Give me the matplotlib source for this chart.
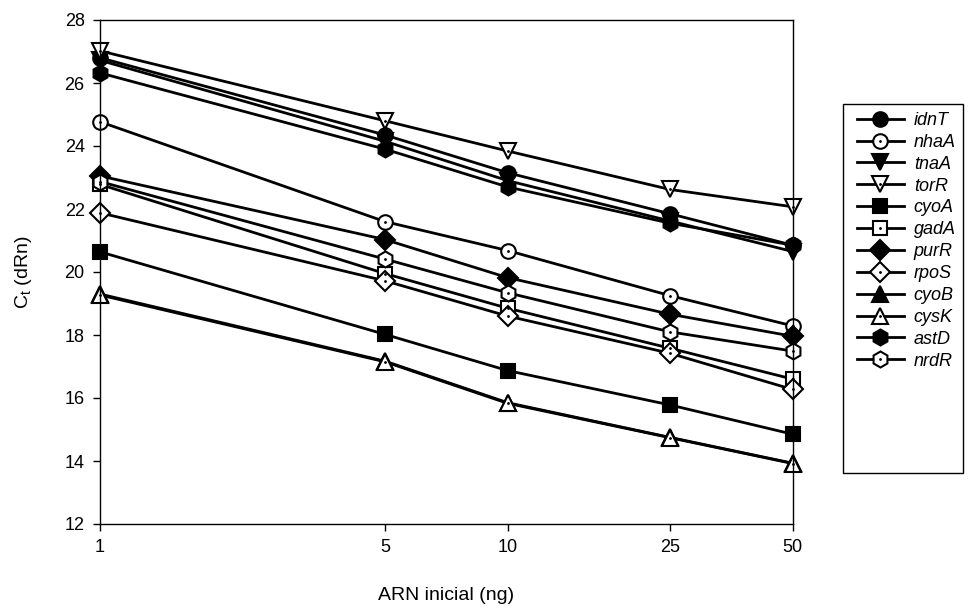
import matplotlib
matplotlib.use("Agg")
import matplotlib.pyplot as plt
from matplotlib.patches import Rectangle
from matplotlib.ticker import FixedLocator, NullLocator, FixedFormatter

plt.rcParams['font.family'] = ['Liberation Sans', 'DejaVu Sans']
plt.rcParams['mathtext.default'] = 'regular'

# ARN inicial (ng)
ng = [1, 5, 10, 25, 50]

idnT = [26.80, 24.35, 23.15, 21.85, 20.85]
nhaA = [24.77, 21.60, 20.68, 19.25, 18.29]
tnaA = [26.72, 24.15, 22.90, 21.62, 20.65]
torR = [27.02, 24.80, 23.84, 22.62, 22.07]
cyoA = [20.64, 18.02, 16.87, 15.78, 14.85]
gadA = [22.78, 19.95, 18.85, 17.58, 16.60]
purR = [23.05, 21.03, 19.82, 18.66, 17.96]
rpoS = [21.88, 19.72, 18.60, 17.42, 16.27]
cyoB = [19.30, 17.17, 15.85, 14.75, 13.93]
cysK = [19.27, 17.15, 15.83, 14.74, 13.92]
astD = [26.32, 23.90, 22.70, 21.55, 20.85]
nrdR = [22.87, 20.41, 19.34, 18.10, 17.49]

genes = ['idnT', 'nhaA', 'tnaA', 'torR', 'cyoA', 'gadA',
         'purR', 'rpoS', 'cyoB', 'cysK', 'astD', 'nrdR']
series = [idnT, nhaA, tnaA, torR, cyoA, gadA, purR, rpoS, cyoB, cysK, astD, nrdR]
markers = ['o', 'o', 'v', 'v', 's', 's', 'D', 'D', '^', '^', 'h', 'h']
filled = [True, False, True, False, True, False, True, False, True, False, True, False]
msizes = [10.5, 10.5, 11.5, 11.5, 10.5, 9.5, 10, 10, 11.5, 11.5, 11.5, 11.5]

fig = plt.figure(figsize=(9.68, 6.09), dpi=100)
ax = fig.add_axes([100 / 968, 1 - 524 / 609, (792.7 - 100) / 968, (524 - 20) / 609])

handles = []
for name, y, m, f, ms in zip(genes, series, markers, filled, msizes):
    ln, = ax.plot(ng, y, color='black', lw=2.0, marker=m, ms=ms,
                  mfc='black' if f else 'white', mec='black', mew=1.5,
                  clip_on=False)
    if f:
        handles.append(ln)
    else:
        # small dot in the centre of open symbols
        dot, = ax.plot(ng, y, ls='none', marker='.', ms=2, color='black',
                       clip_on=False, zorder=ln.get_zorder() + 0.01)
        handles.append((ln, dot))

ax.set_xscale('log')
ax.set_xlim(1, 50)
ax.set_ylim(12, 28)
ax.xaxis.set_major_locator(FixedLocator(ng))
ax.xaxis.set_major_formatter(FixedFormatter([str(v) for v in ng]))
ax.xaxis.set_minor_locator(NullLocator())
ax.set_yticks(range(12, 29, 2))

ax.tick_params(direction='out', length=5, width=1, labelsize=13, pad=6)
for s in ax.spines.values():
    s.set_linewidth(1)

ax.set_xlabel('ARN inicial (ng)', fontsize=14, labelpad=22)
ax.set_ylabel('C$_{t}$ (dRn)', fontsize=14, labelpad=22)

# legend box (taller than its entries, as in the original)
fig.patches.append(Rectangle((843 / 968, 1 - 473 / 609), 120 / 968, 369 / 609,
                             transform=fig.transFigure, fill=False,
                             edgecolor='black', lw=1))

leg = fig.legend(handles, genes, loc='upper left',
                 bbox_to_anchor=(857 / 968, 1 - 112 / 609),
                 frameon=False, fontsize=13, handlelength=2.6,
                 labelspacing=0.27, handletextpad=0.55, borderpad=0,
                 borderaxespad=0)
for t in leg.get_texts():
    t.set_fontstyle('italic')

fig.savefig('out.png', dpi=100)
